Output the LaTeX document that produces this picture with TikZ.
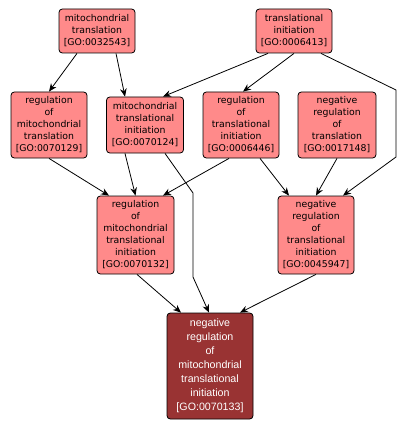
\documentclass[tikz,border=0pt]{standalone}
\usepackage{fontspec}
\setmainfont{DejaVu Sans}
\newfontfamily\darkfont{Liberation Sans}
\usetikzlibrary{arrows.meta,calc}
\definecolor{lightnode}{HTML}{FF8A8A}
\definecolor{darknode}{HTML}{993333}
\tikzset{
  goterm/.style={draw=black, line width=0.6pt, fill=lightnode, rounded corners=2.5pt,
    align=center, inner sep=0pt, font=\fontsize{7}{9}\selectfont, text=black},
  goterm dark/.style={goterm, fill=darknode, text=white, font=\darkfont\fontsize{8}{10.5}\selectfont},
  link/.style={draw=black, line width=0.6pt, -{Stealth[length=6pt,width=5pt]}}
}
\begin{document}
\begin{tikzpicture}[x=0.75pt,y=-0.75pt]
\useasboundingbox (0,0) rectangle (406,431);
\node[goterm, minimum width=57pt, minimum height=33pt] (A) at (97,31) {mitochondrial\\translation\\{[GO:0032543]}};
\node[goterm, minimum width=57pt, minimum height=33pt] (B) at (294,31) {translational\\initiation\\{[GO:0006413]}};
\node[goterm, minimum width=57pt, minimum height=49.5pt] (C) at (49,125) {regulation\\of\\mitochondrial\\translation\\{[GO:0070129]}};
\node[goterm, minimum width=57.75pt, minimum height=42pt] (D) at (145,125) {mitochondrial\\translational\\initiation\\{[GO:0070124]}};
\node[goterm, minimum width=57pt, minimum height=49.5pt] (E) at (241,125) {regulation\\of\\translational\\initiation\\{[GO:0006446]}};
\node[goterm, minimum width=58.5pt, minimum height=49.5pt] (F) at (337,125) {negative\\regulation\\of\\translation\\{[GO:0017148]}};
\node[goterm, minimum width=57.75pt, minimum height=58.5pt] (G) at (135.5,235) {regulation\\of\\mitochondrial\\translational\\initiation\\{[GO:0070132]}};
\node[goterm, minimum width=57pt, minimum height=58.5pt] (H) at (316,235) {negative\\regulation\\of\\translational\\initiation\\{[GO:0045947]}};
\node[goterm dark, minimum width=64.5pt, minimum height=79.5pt] (I) at (210,366) {negative\\regulation\\of\\mitochondrial\\translational\\initiation\\{[GO:0070133]}};
\draw[link] ($(A.south)+(-20,0)$) -- ($(C.north)+(0,0)$);
\draw[link] ($(A.south)+(19,0)$) -- ($(D.north)+(-20,0)$);
\draw[link] ($(B.south)+(-26,0)$) -- ($(D.north)+(18,0)$);
\draw[link] ($(B.south)+(0,0)$) -- ($(E.north)+(2,0)$);
\draw[link] ($(B.south)+(27,0)$) -- (396,90) -- (396,157) -- ($(H.north)+(27,0)$);
\draw[link] ($(C.south)+(0,0)$) -- ($(G.north)+(-26.5,0)$);
\draw[link] ($(D.south)+(-20,0)$) -- ($(G.north)+(0,0)$);
\draw[link] ($(E.south)+(-12,0)$) -- ($(G.north)+(27.5,0)$);
\draw[link] ($(D.south)+(20,0)$) -- (193,193) -- (193,277) -- ($(I.north)+(-1,0)$);
\draw[link] ($(E.south)+(19,0)$) -- ($(H.north)+(-27,0)$);
\draw[link] ($(F.south)+(0,0)$) -- ($(H.north)+(0,0)$);
\draw[link] ($(G.south)+(1.5,0)$) -- ($(I.north)+(-29,0)$);
\draw[link] ($(H.south)+(0,0)$) -- ($(I.north)+(30,0)$);
\end{tikzpicture}
\end{document}
